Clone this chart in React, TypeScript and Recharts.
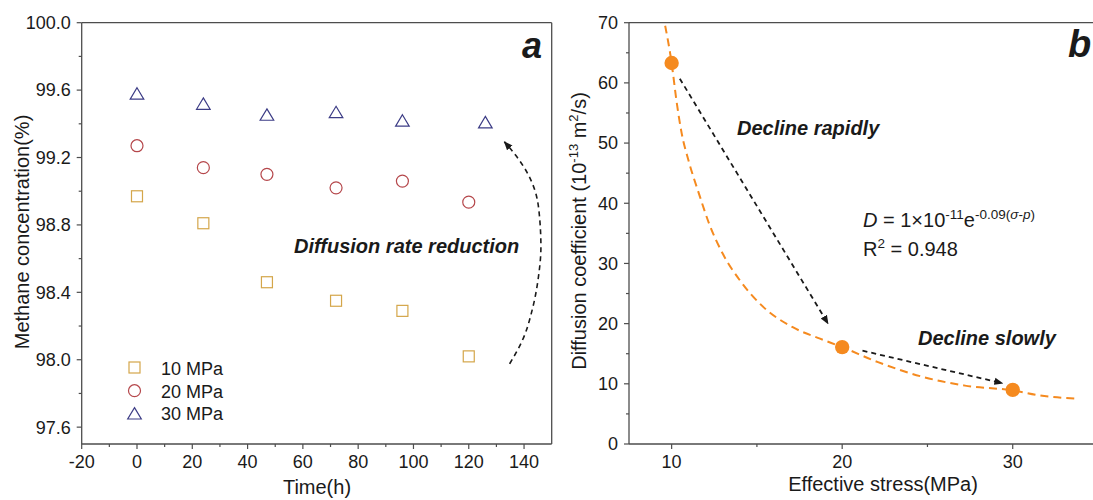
import { ComposedChart, Scatter, XAxis, YAxis, ReferenceLine } from 'recharts';

const FONT = '"Liberation Sans", Arial, sans-serif';
const AXIS = '#4d4d4d';
const INK = '#1a1a1a';
const C10 = '#d4a64a';
const C20 = '#b5474b';
const C30 = '#3d3d86';
const ORANGE = '#f58a1f';

// panel a – methane concentration over time
const hours = [0, 24, 47, 72, 96, 120];
const hours30 = [0, 24, 47, 72, 96, 126];
const conc10 = [98.97, 98.81, 98.46, 98.35, 98.29, 98.02];
const conc20 = [99.27, 99.14, 99.1, 99.02, 99.06, 98.935];
const conc30 = [99.58, 99.52, 99.455, 99.47, 99.42, 99.41];
const timeTicks = [-20, 0, 20, 40, 60, 80, 100, 120, 140];
const timeMinor = [-10, 10, 30, 50, 70, 90, 110, 130];
const concTicks = [97.6, 98.0, 98.4, 98.8, 99.2, 99.6, 100.0];
const concMinor = [97.8, 98.2, 98.6, 99.0, 99.4, 99.8];
// dashed arc "Diffusion rate reduction" (bottom -> top)
const arcX = [134.8, 139.4, 143.2, 145.2, 146.1, 145.6, 143.9, 141.3, 137.4, 132.9];
const arcY = [97.976, 98.115, 98.313, 98.491, 98.669, 98.848, 99.006, 99.105, 99.204, 99.293];

// panel b – diffusion coefficient vs effective stress
const stress = [10, 20, 30];
const diffCoef = [63.3, 16.1, 9.0];
const fitX = [9.62, 10, 10.28, 10.59, 10.99, 11.6, 12.2, 13.0, 14.0, 15.4, 17.1, 18.7, 20, 22.1, 24.8, 27.2, 30, 31.6, 33.9];
const fitY = [69.5, 63.3, 57.1, 51.6, 47.1, 41.6, 36.6, 31.6, 27.2, 22.7, 19.4, 17.5, 16.1, 13.6, 11.1, 9.7, 8.9, 8.05, 7.5];
const fastX = [10.48, 19.17];
const fastY = [60.7, 20.0];
const slowX = [21.19, 29.4];
const slowY = [15.5, 10.1];
const stressTicks = [10, 20, 30];
const stressMinor = [15, 25];
const diffTicks = [0, 10, 20, 30, 40, 50, 60, 70];
const diffMinor = [5, 15, 25, 35, 45, 55, 65];

const zip = (xs: number[], ys: number[]) => xs.map((x, i) => ({ x, y: ys[i] }));
const isIn = (arr: number[], v: number) => arr.some((m) => Math.abs(m - v) < 1e-6);
const merge = (a: number[], b: number[]) => [...a, ...b].sort((p, q) => p - q);

const TS = 5;
const TM = 6;

function xTick(majors: number[], fmt: (v: number) => string) {
  return (p: any) => {
    const v = p.payload.value;
    const major = isIn(majors, v);
    const y0 = p.y - TS - TM;
    return (
      <g>
        <line x1={p.x} x2={p.x} y1={y0} y2={y0 + (major ? 5 : 3)} stroke={AXIS} strokeWidth={1.2} />
        {major && (
          <text x={p.x} y={p.y} dy="0.71em" textAnchor="middle" fontSize={18} fill={INK} fontFamily={FONT}>
            {fmt(v)}
          </text>
        )}
      </g>
    );
  };
}

function yTick(majors: number[], fmt: (v: number) => string) {
  return (p: any) => {
    const v = p.payload.value;
    const major = isIn(majors, v);
    const x0 = p.x + TS + TM;
    return (
      <g>
        <line x1={x0 - (major ? 5 : 3)} x2={x0} y1={p.y} y2={p.y} stroke={AXIS} strokeWidth={1.2} />
        {major && (
          <text x={p.x} y={p.y} dy="0.355em" textAnchor="end" fontSize={18} fill={INK} fontFamily={FONT}>
            {fmt(v)}
          </text>
        )}
      </g>
    );
  };
}

const square = (p: any) => (
  <rect x={p.cx - 5.5} y={p.cy - 5.5} width={11} height={11} fill="none" stroke={C10} strokeWidth={1.2} />
);
const circle = (p: any) => <circle cx={p.cx} cy={p.cy} r={6} fill="none" stroke={C20} strokeWidth={1.2} />;
const triangle = (p: any) => (
  <path d={`M${p.cx},${p.cy - 5.7}L${p.cx + 6.8},${p.cy + 5.7}L${p.cx - 6.8},${p.cy + 5.7}Z`} fill="none" stroke={C30} strokeWidth={1.2} />
);
const dot = (p: any) => <circle cx={p.cx} cy={p.cy} r={7.2} fill={ORANGE} />;
const nothing = () => <g />;

const axisLine = { stroke: AXIS, strokeWidth: 1.3 };

const arrowDefs = (id: string) => (
  <defs>
    <marker id={id} viewBox="0 0 10 10" refX="9" refY="5" markerWidth="9" markerHeight="9" markerUnits="userSpaceOnUse" orient="auto">
      <path d="M0,1 L10,5 L0,9 z" fill={INK} />
    </marker>
  </defs>
);

function PanelA() {
  return (
    <ComposedChart width={560} height={500} margin={{ top: 22.7, right: 8.3, bottom: 26, left: 21.7 }}>
      {arrowDefs('headA')}
      <XAxis
        type="number"
        dataKey="x"
        domain={[-20, 150]}
        allowDataOverflow
        ticks={merge(timeTicks, timeMinor)}
        interval={0}
        tick={xTick(timeTicks, (v) => String(v))}
        tickLine={false}
        tickSize={TS}
        tickMargin={TM}
        height={30}
        axisLine={axisLine}
      />
      <YAxis
        type="number"
        dataKey="y"
        domain={[97.5, 100]}
        allowDataOverflow
        ticks={merge(concTicks, concMinor)}
        interval={0}
        tick={yTick(concTicks, (v) => v.toFixed(1))}
        tickLine={false}
        tickSize={TS}
        tickMargin={TM}
        width={60}
        axisLine={axisLine}
      />
      <ReferenceLine y={100} stroke={AXIS} strokeWidth={1.3} />
      <ReferenceLine x={150} stroke={AXIS} strokeWidth={1.3} />
      <Scatter data={zip(hours, conc10)} shape={square} isAnimationActive={false} />
      <Scatter data={zip(hours, conc20)} shape={circle} isAnimationActive={false} />
      <Scatter data={zip(hours30, conc30)} shape={triangle} isAnimationActive={false} />
      <Scatter
        data={zip(arcX, arcY)}
        shape={nothing}
        line={{ stroke: INK, strokeWidth: 1.6, strokeDasharray: '5 4', fill: 'none', markerEnd: 'url(#headA)' }}
        lineJointType="monotoneY"
        isAnimationActive={false}
      />
    </ComposedChart>
  );
}

function PanelB() {
  return (
    <ComposedChart width={600} height={500} margin={{ top: 22.7, right: 62, bottom: 26, left: 9 }}>
      {arrowDefs('headB')}
      <XAxis
        type="number"
        dataKey="x"
        domain={[7.5, 35]}
        allowDataOverflow
        ticks={merge(stressTicks, stressMinor)}
        interval={0}
        tick={xTick(stressTicks, (v) => String(v))}
        tickLine={false}
        tickSize={TS}
        tickMargin={TM}
        height={30}
        axisLine={axisLine}
      />
      <YAxis
        type="number"
        dataKey="y"
        domain={[0, 70]}
        allowDataOverflow
        ticks={merge(diffTicks, diffMinor)}
        interval={0}
        tick={yTick(diffTicks, (v) => String(v))}
        tickLine={false}
        tickSize={TS}
        tickMargin={TM}
        width={60}
        axisLine={axisLine}
      />
      <ReferenceLine y={70} stroke={AXIS} strokeWidth={1.3} />
      <Scatter
        data={zip(fitX, fitY)}
        shape={nothing}
        line={{ stroke: ORANGE, strokeWidth: 2, strokeDasharray: '8 5', fill: 'none' }}
        lineJointType="monotoneX"
        isAnimationActive={false}
      />
      <Scatter
        data={zip(fastX, fastY)}
        shape={nothing}
        line={{ stroke: INK, strokeWidth: 1.8, strokeDasharray: '5 4', fill: 'none', markerEnd: 'url(#headB)' }}
        isAnimationActive={false}
      />
      <Scatter
        data={zip(slowX, slowY)}
        shape={nothing}
        line={{ stroke: INK, strokeWidth: 1.8, strokeDasharray: '5 4', fill: 'none', markerEnd: 'url(#headB)' }}
        isAnimationActive={false}
      />
      <Scatter data={zip(stress, diffCoef)} shape={dot} isAnimationActive={false} />
    </ComposedChart>
  );
}

function Overlay() {
  const t = { fontFamily: FONT, fill: INK } as const;
  const bi = { ...t, fontWeight: 700, fontStyle: 'italic' } as const;
  return (
    <svg width={1093} height={500} style={{ position: 'absolute', left: 0, top: 0, pointerEvents: 'none' }}>
      {/* axis titles */}
      <text transform="translate(29,232) rotate(-90)" textAnchor="middle" fontSize={20} {...t}>
        Methane concentration(%)
      </text>
      <text x={317} y={494} textAnchor="middle" fontSize={20} {...t}>Time(h)</text>
      <text transform="translate(586,231) rotate(-90)" textAnchor="middle" fontSize={20} {...t}>
        Diffusion coefficient (10<tspan dy={-8} fontSize={13}>-13</tspan>
        <tspan dy={8}> m</tspan><tspan dy={-8} fontSize={13}>2</tspan><tspan dy={8}>/s)</tspan>
      </text>
      <text x={883} y={491} textAnchor="middle" fontSize={20} {...t}>Effective stress(MPa)</text>

      {/* panel letters */}
      <text x={542} y={58} textAnchor="end" fontSize={36} {...bi}>a</text>
      <text x={1068} y={57} fontSize={38} {...bi}>b</text>

      {/* annotations */}
      <text x={294} y={253} fontSize={20} {...bi}>Diffusion rate reduction</text>
      <text x={737} y={135} fontSize={20} {...bi}>Decline rapidly</text>
      <text x={918} y={345} fontSize={20} {...bi}>Decline slowly</text>
      <text x={863} y={227} fontSize={20} {...t}>
        <tspan fontStyle="italic">D</tspan> = 1×10<tspan dy={-8} fontSize={13.5}>-11</tspan>
        <tspan dy={8}>e</tspan><tspan dy={-8} fontSize={13.5}>-0.09(<tspan fontStyle="italic">σ</tspan>-<tspan fontStyle="italic">p</tspan>)</tspan>
      </text>
      <text x={863} y={256} fontSize={20} {...t}>
        R<tspan dy={-8} fontSize={13.5}>2</tspan><tspan dy={8}> = 0.948</tspan>
      </text>

      {/* legend */}
      <rect x={129} y={362} width={11} height={11} fill="none" stroke={C10} strokeWidth={1.2} />
      <circle cx={134.5} cy={390.7} r={6} fill="none" stroke={C20} strokeWidth={1.2} />
      <path d="M134.5,407.6L141.3,419L127.7,419Z" fill="none" stroke={C30} strokeWidth={1.2} />
      <text x={161} y={374.5} fontSize={18} {...t}>10 MPa</text>
      <text x={161} y={397.5} fontSize={18} {...t}>20 MPa</text>
      <text x={161} y={420} fontSize={18} {...t}>30 MPa</text>
    </svg>
  );
}

export default function App() {
  return (
    <div style={{ position: 'fixed', left: 0, top: 0, width: 1093, height: 500, overflow: 'hidden', background: '#fff' }}>
      <div style={{ position: 'absolute', left: 0, top: 0 }}>
        <PanelA />
      </div>
      <div style={{ position: 'absolute', left: 560, top: 0 }}>
        <PanelB />
      </div>
      <Overlay />
    </div>
  );
}
